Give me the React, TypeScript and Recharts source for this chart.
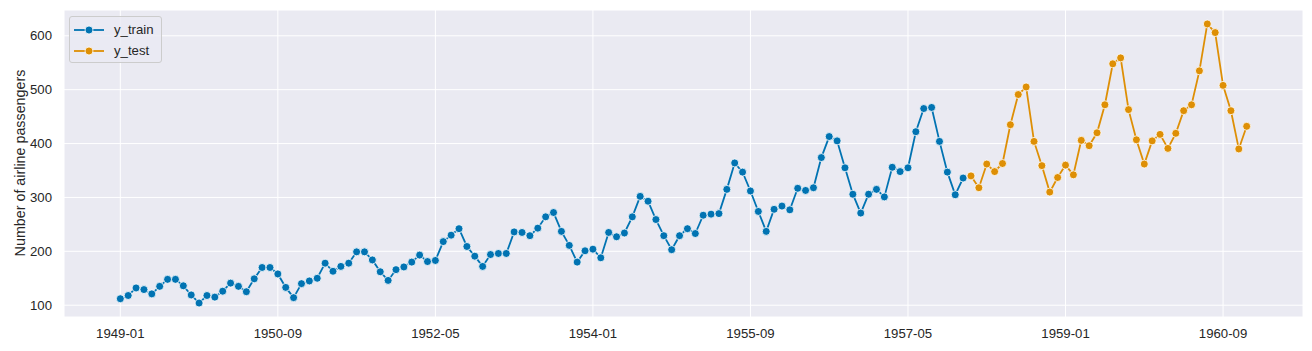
import React from "react";
import { LineChart, Line, XAxis, YAxis, CartesianGrid } from "recharts";

// monthly airline passengers, first month is 1949-01
const START_YEAR = 1949;

const trainValues = [
  112, 118, 132, 129, 121, 135, 148, 148, 136, 119, 104, 118,
  115, 126, 141, 135, 125, 149, 170, 170, 158, 133, 114, 140,
  145, 150, 178, 163, 172, 178, 199, 199, 184, 162, 146, 166,
  171, 180, 193, 181, 183, 218, 230, 242, 209, 191, 172, 194,
  196, 196, 236, 235, 229, 243, 264, 272, 237, 211, 180, 201,
  204, 188, 235, 227, 234, 264, 302, 293, 259, 229, 203, 229,
  242, 233, 267, 269, 270, 315, 364, 347, 312, 274, 237, 278,
  284, 277, 317, 313, 318, 374, 413, 405, 355, 306, 271, 306,
  315, 301, 356, 348, 355, 422, 465, 467, 404, 347, 305, 336,
];

const testValues = [
  340, 318, 362, 348, 363, 435, 491, 505, 404, 359, 310, 337,
  360, 342, 406, 396, 420, 472, 548, 559, 463, 407, 362, 405,
  417, 391, 419, 461, 472, 535, 622, 606, 508, 461, 390, 432,
];

const xTicks = [0, 20, 40, 60, 80, 100, 120, 140];
const yTicks = [100, 200, 300, 400, 500, 600];

const TRAIN_COLOR = "#0173b2";
const TEST_COLOR = "#de8f05";
const FONT = "'Liberation Sans', Arial, sans-serif";
const TEXT = "#262626";
const TICK_SIZE = 13.2;

const monthLabel = (i: number) => {
  const y = START_YEAR + Math.floor(i / 12);
  const m = (i % 12) + 1;
  return `${y}-${m < 10 ? "0" + m : m}`;
};

const rows = [
  ...trainValues.map((v, i) => ({ t: i, train: v, test: null as number | null })),
  ...testValues.map((v, i) => ({ t: trainValues.length + i, train: null as number | null, test: v })),
];

const LegendItem = ({ color, label }: { color: string; label: string }) => (
  <div style={{ display: "flex", alignItems: "center", height: 21 }}>
    <svg width={36} height={12} style={{ marginRight: 4 }}>
      <line x1={0} y1={6} x2={30} y2={6} stroke={color} strokeWidth={1.8} />
      <circle cx={15} cy={6} r={4} fill={color} stroke="#fff" strokeWidth={0.8} />
    </svg>
    <span>{label}</span>
  </div>
);

export default function App() {
  const total = trainValues.length + testValues.length - 1;
  const pad = total * 0.05;
  const lo = 104, hi = 622;
  const yPad = (hi - lo) * 0.05;
  return (
    <div style={{ position: "fixed", left: 0, top: 0, width: 1312, height: 351, background: "#fff", fontFamily: FONT }}>
      <LineChart width={1312} height={351} data={rows} margin={{ top: 10, right: 9, left: 0, bottom: 0 }}>
        <CartesianGrid fill="#eaeaf2" stroke="#ffffff" strokeWidth={1} strokeOpacity={1} />
        <XAxis
          dataKey="t"
          type="number"
          domain={[-pad, total + pad]}
          ticks={xTicks}
          tickFormatter={monthLabel}
          axisLine={false}
          tickLine={false}
          tickSize={6}
          tickMargin={6}
          height={34}
          allowDataOverflow
          tick={{ fill: TEXT, fontSize: TICK_SIZE, fontFamily: FONT }}
        />
        <YAxis
          type="number"
          domain={[lo - yPad, hi + yPad]}
          ticks={yTicks}
          axisLine={false}
          tickLine={false}
          tickSize={6}
          tickMargin={6}
          width={64}
          allowDataOverflow
          tick={{ fill: TEXT, fontSize: TICK_SIZE, fontFamily: FONT }}
          label={{
            content: () => (
              <text
                x={25}
                y={163}
                transform="rotate(-90 25 163)"
                textAnchor="middle"
                fill={TEXT}
                fontSize={14.3}
                fontFamily={FONT}
              >
                Number of airline passengers
              </text>
            ),
          }}
        />
        <Line
          dataKey="train"
          stroke={TRAIN_COLOR}
          strokeWidth={1.8}
          dot={{ r: 4, fill: TRAIN_COLOR, stroke: "#fff", strokeWidth: 0.8 }}
          activeDot={false}
          isAnimationActive={false}
        />
        <Line
          dataKey="test"
          stroke={TEST_COLOR}
          strokeWidth={1.8}
          dot={{ r: 4, fill: TEST_COLOR, stroke: "#fff", strokeWidth: 0.8 }}
          activeDot={false}
          isAnimationActive={false}
        />
      </LineChart>
      <div
        style={{
          position: "absolute",
          left: 69,
          top: 16,
          width: 93,
          height: 47,
          border: "1px solid #cccccc",
          borderRadius: 3,
          background: "rgba(234,234,242,0.8)",
          boxSizing: "border-box",
          padding: "2px 0 0 4px",
          fontSize: TICK_SIZE,
          color: TEXT,
        }}
      >
        <LegendItem color={TRAIN_COLOR} label="y_train" />
        <LegendItem color={TEST_COLOR} label="y_test" />
      </div>
    </div>
  );
}
